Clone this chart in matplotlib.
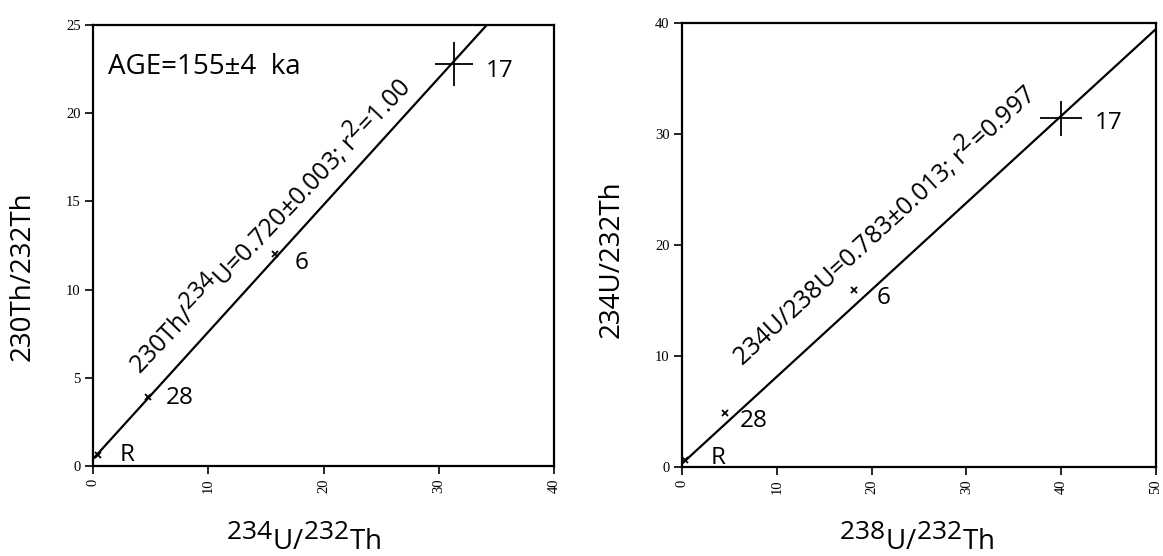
import matplotlib
matplotlib.use("Agg")
import matplotlib.pyplot as plt
import numpy as np
try:
    import matplotlib._mathtext as _mt
    _mt.SHRINK_FACTOR = 0.95
except Exception:
    pass

plt.rcParams['font.family'] = ['Open Sans', 'DejaVu Sans']
plt.rcParams['mathtext.fontset'] = 'custom'
plt.rcParams['mathtext.rm'] = 'Open Sans'
plt.rcParams['mathtext.it'] = 'Open Sans'

# Left panel data: 234U/232Th vs 230Th/232Th
labels = ['R', '28', '6', '17']
left_x = [0.4, 4.8, 15.8, 31.3]
left_y = [0.6, 3.9, 12.0, 22.8]
left_xerr = [0.0, 0.0, 0.0, 1.65]
left_yerr = [0.0, 0.0, 0.0, 1.25]
left_slope, left_icpt = 0.720, 0.4

# Right panel data: 238U/232Th vs 234U/232Th
right_x = [0.3, 4.5, 18.2, 40.0]
right_y = [0.6, 4.9, 15.9, 31.4]
right_xerr = [0.0, 0.0, 0.0, 2.2]
right_yerr = [0.0, 0.0, 0.0, 1.6]
right_slope, right_icpt = 0.783, 0.3

fig = plt.figure(figsize=(11.63, 5.56), dpi=100)
axL = fig.add_axes([0.0800, 0.1619, 0.3964, 0.7932])
axR = fig.add_axes([0.5864, 0.1601, 0.4075, 0.7986])

def style(ax, xmax, ymax, xticks, yticks):
    ax.set_xlim(0, xmax)
    ax.set_ylim(0, ymax)
    ax.set_xticks(xticks)
    ax.set_yticks(yticks)
    for s in ax.spines.values():
        s.set_linewidth(1.6)
        s.set_color('black')
    ax.tick_params(direction='out', length=6, width=1.2, top=False, right=False, pad=3)
    for t in ax.get_xticklabels():
        t.set_rotation(90)
        t.set_fontfamily('Liberation Serif')
        t.set_fontsize(10.5)
    for t in ax.get_yticklabels():
        t.set_fontfamily('Liberation Serif')
        t.set_fontsize(10.5)

def draw(ax, xs, ys, xe, ye, slope, icpt, xmax):
    xl = np.array([0, xmax])
    ax.plot(xl, slope * xl + icpt, color='black', lw=1.6, zorder=2, clip_on=True)
    for x, y, ex, ey in zip(xs, ys, xe, ye):
        if ex > 0:
            ax.errorbar([x], [y], xerr=[ex], yerr=[ey], fmt='none',
                        ecolor='black', elinewidth=1.3, capsize=0, zorder=3)
        else:
            ax.plot([x], [y], marker='x', ms=4, mew=1.3, color='black', zorder=3)

draw(axL, left_x, left_y, left_xerr, left_yerr, left_slope, left_icpt, 40)
draw(axR, right_x, right_y, right_xerr, right_yerr, right_slope, right_icpt, 50)

style(axL, 40, 25, [0, 10, 20, 30, 40], [0, 5, 10, 15, 20, 25])
style(axR, 50, 40, [0, 10, 20, 30, 40, 50], [0, 10, 20, 30, 40])

fs = 17.5
# point label positions (data coords)
lab_pos_L = [(2.3, 0.6), (6.3, 3.85), (17.5, 11.5), (34.1, 22.4)]
lab_pos_R = [(3.05, 0.8), (6.1, 4.1), (20.5, 15.2), (43.6, 31.0)]
for lab, p in zip(labels, lab_pos_L):
    axL.text(p[0], p[1], lab, fontsize=fs, va='center', ha='left')
for lab, p in zip(labels, lab_pos_R):
    axR.text(p[0], p[1], lab, fontsize=fs, va='center', ha='left')

axL.text(1.3, 22.6, 'AGE=155±4  ka', fontsize=20, va='center', ha='left')

axL.text(15.2, 13.7, r'230Th/$^{234}$U=0.720±0.003; r$^{2}$=1.00', fontsize=17.8,
         rotation=46.5, rotation_mode='anchor', ha='center', va='center')
axR.text(21.2, 21.9, r'234U/238U=0.783±0.013; r$^{2}$=0.997', fontsize=17.8,
         rotation=42.5, rotation_mode='anchor', ha='center', va='center')

# axis labels at positions measured in figure pixels
fig.text(23 / 1163, 1 - 276 / 556, '230Th/232Th', fontsize=20, rotation=90,
         ha='center', va='center')
fig.text(304 / 1163, 1 - 540 / 556, r'$^{234}$U/$^{232}$Th', fontsize=20,
         ha='center', va='center')
fig.text(612 / 1163, 1 - 259 / 556, '234U/232Th', fontsize=20, rotation=90,
         ha='center', va='center')
fig.text(917 / 1163, 1 - 540 / 556, r'$^{238}$U/$^{232}$Th', fontsize=20,
         ha='center', va='center')

fig.savefig('out.png', dpi=100)
